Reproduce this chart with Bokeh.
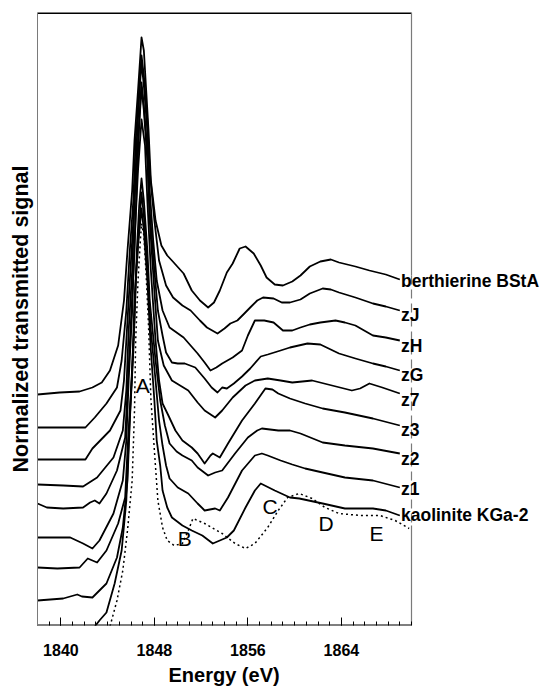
from bokeh.plotting import figure
from bokeh.models import Range1d, FixedTicker, ColumnDataSource, Title
from bokeh.core.properties import value
from bokeh.embed import file_html
from bokeh.resources import INLINE

# ---------------- data ----------------
e_bsta = [1838.0, 1839.9, 1841.6, 1842.7, 1843.5, 1844.2, 1844.9, 1845.4, 1845.7, 1846.1, 1846.3, 1846.6, 1846.8, 1846.9,
          1847.1, 1847.3, 1847.5, 1847.7, 1848.1, 1848.6, 1849.1, 1849.5, 1850.5, 1851.2, 1851.9, 1852.6, 1853.1, 1853.6,
          1854.2, 1854.7, 1855.3, 1855.8, 1856.5, 1857.1, 1857.6, 1858.3, 1859.0, 1859.8, 1860.5, 1861.3, 1862.2, 1863.1,
          1863.8, 1865.2, 1866.4, 1867.8, 1869.0]
s_bsta = [2.31, 2.33, 2.34, 2.38, 2.43, 2.55, 2.80, 3.25, 3.75, 4.35, 4.85, 5.35, 5.70, 5.88,
          5.75, 5.35, 4.95, 4.45, 4.05, 3.80, 3.70, 3.65, 3.52, 3.35, 3.25, 3.18, 3.23, 3.35,
          3.53, 3.62, 3.77, 3.79, 3.72, 3.60, 3.48, 3.41, 3.40, 3.44, 3.50, 3.59, 3.64, 3.66,
          3.63, 3.59, 3.55, 3.51, 3.46]

e_zJ = [1838.0, 1842.1, 1842.9, 1843.9, 1844.8, 1845.2, 1845.6, 1845.9, 1846.2, 1846.4, 1846.7, 1846.9, 1847.1, 1847.4,
        1847.6, 1848.0, 1848.4, 1849.0, 1849.6, 1850.4, 1851.1, 1851.9, 1852.5, 1853.4, 1854.0, 1854.5, 1855.1, 1855.7,
        1856.2, 1856.8, 1857.3, 1858.2, 1858.9, 1859.6, 1860.5, 1861.3, 1862.4, 1863.1, 1863.8, 1865.2, 1866.7, 1867.8,
        1869.0]
s_zJ = [1.98, 1.98, 2.08, 2.22, 2.38, 2.65, 3.15, 3.75, 4.25, 4.85, 5.35, 5.70, 5.50, 5.05,
        4.55, 4.05, 3.65, 3.40, 3.28, 3.20, 3.15, 3.05, 2.98, 2.92, 2.97, 3.02, 3.05, 3.12,
        3.18, 3.25, 3.28, 3.27, 3.23, 3.23, 3.26, 3.32, 3.37, 3.36, 3.33, 3.28, 3.22, 3.19,
        3.15]

e_zH = [1838.0, 1842.1, 1842.7, 1844.2, 1845.1, 1845.4, 1845.7, 1846.0, 1846.3, 1846.5, 1846.7, 1846.9, 1847.1, 1847.4,
        1847.6, 1847.9, 1848.2, 1848.7, 1849.3, 1850.5, 1851.1, 1851.7, 1852.3, 1852.8, 1853.3, 1853.8, 1854.7, 1855.5,
        1856.0, 1856.6, 1857.4, 1858.2, 1859.0, 1859.8, 1860.5, 1861.3, 1862.2, 1863.5, 1864.3, 1865.2, 1866.1, 1866.7,
        1867.8, 1869.0]
s_zH = [1.66, 1.66, 1.77, 1.95, 2.15, 2.45, 3.05, 3.65, 4.25, 4.85, 5.30, 5.63, 5.40, 4.95,
        4.35, 3.85, 3.45, 3.15, 2.98, 2.88, 2.80, 2.72, 2.63, 2.55, 2.58, 2.62, 2.68, 2.75,
        2.90, 3.05, 3.05, 3.03, 2.95, 2.95, 2.98, 3.01, 3.03, 3.05, 3.03, 3.00, 2.94, 2.90,
        2.88, 2.85]

e_zG = [1838.0, 1840.2, 1841.9, 1843.1, 1844.5, 1845.3, 1845.6, 1845.8, 1846.1, 1846.3, 1846.6, 1846.9, 1847.1, 1847.4,
        1847.6, 1848.0, 1848.3, 1848.7, 1849.0, 1849.5, 1850.0, 1850.6, 1851.5, 1852.3, 1852.9, 1853.4, 1853.8, 1854.2,
        1854.8, 1855.5, 1856.2, 1857.1, 1857.7, 1858.8, 1859.6, 1861.1, 1862.2, 1863.8, 1865.2, 1866.7, 1867.8, 1869.0]
s_zG = [1.41, 1.40, 1.39, 1.48, 1.68, 1.95, 2.35, 2.95, 3.55, 4.25, 4.85, 5.43, 5.20, 4.75,
        4.15, 3.55, 3.15, 2.90, 2.73, 2.63, 2.62, 2.62, 2.58, 2.47, 2.38, 2.33, 2.38, 2.37,
        2.42, 2.49, 2.57, 2.69, 2.71, 2.75, 2.78, 2.82, 2.81, 2.72, 2.67, 2.62, 2.59, 2.55]

e_z7 = [1838.0, 1838.8, 1840.2, 1841.9, 1842.5, 1842.9, 1843.3, 1843.9, 1844.8, 1845.5, 1845.7, 1846.0, 1846.3, 1846.5,
        1846.7, 1846.9, 1847.1, 1847.4, 1847.6, 1848.0, 1848.3, 1848.8, 1849.5, 1850.2, 1850.9, 1851.7, 1852.3, 1853.2,
        1853.8, 1854.7, 1855.8, 1856.6, 1857.7, 1858.8, 1859.8, 1861.5, 1863.2, 1864.9, 1865.6, 1866.4, 1867.5, 1869.0]
s_z7 = [1.22, 1.18, 1.17, 1.18, 1.23, 1.25, 1.22, 1.32, 1.55, 1.88, 2.35, 3.05, 3.75, 4.45,
        5.00, 5.38, 5.15, 4.65, 4.05, 3.35, 2.85, 2.60, 2.45, 2.40, 2.35, 2.23, 2.15, 2.08,
        2.15, 2.28, 2.40, 2.45, 2.47, 2.45, 2.43, 2.45, 2.40, 2.35, 2.37, 2.42, 2.38, 2.32]

e_z3 = [1838.0, 1840.8, 1841.9, 1842.7, 1843.3, 1844.5, 1845.3, 1845.6, 1845.8, 1846.1, 1846.3, 1846.6, 1846.9, 1847.2,
        1847.4, 1847.7, 1848.1, 1848.4, 1848.7, 1849.2, 1849.8, 1850.4, 1851.2, 1851.7, 1852.3, 1852.8, 1853.0, 1853.6,
        1854.3, 1855.5, 1856.6, 1857.5, 1858.1, 1858.6, 1859.6, 1860.9, 1862.4, 1864.3, 1866.7, 1869.0]
s_z3 = [0.88, 0.88, 0.82, 0.77, 0.85, 1.12, 1.45, 1.85, 2.45, 3.15, 3.85, 4.55, 5.06, 4.80,
        4.25, 3.55, 2.85, 2.45, 2.22, 2.10, 1.95, 1.85, 1.78, 1.72, 1.62, 1.70, 1.72, 1.68,
        1.82, 2.05, 2.22, 2.37, 2.36, 2.32, 2.27, 2.22, 2.17, 2.13, 2.07, 2.00]

e_z2 = [1838.0, 1839.7, 1841.6, 1842.3, 1843.1, 1843.9, 1844.9, 1845.5, 1845.7, 1846.0, 1846.3, 1846.5, 1846.7, 1846.9,
        1847.1, 1847.4, 1847.6, 1848.1, 1848.5, 1848.9, 1849.3, 1849.9, 1850.4, 1851.2, 1851.7, 1852.6, 1853.2, 1853.8,
        1854.9, 1856.0, 1856.8, 1857.2, 1858.6, 1859.6, 1860.5, 1862.4, 1864.3, 1866.7, 1869.0]
s_z2 = [0.58, 0.57, 0.58, 0.67, 0.63, 0.75, 1.02, 1.28, 1.75, 2.35, 3.05, 3.75, 4.20, 4.47,
        4.25, 3.75, 3.25, 2.65, 2.25, 2.00, 1.82, 1.74, 1.70, 1.65, 1.58, 1.50, 1.53, 1.55,
        1.72, 1.88, 1.95, 1.97, 1.95, 1.95, 1.92, 1.83, 1.80, 1.77, 1.72]

e_z1 = [1838.0, 1840.2, 1841.4, 1841.8, 1842.7, 1843.9, 1844.8, 1845.3, 1845.7, 1845.9, 1846.2, 1846.4, 1846.7, 1846.9,
        1847.1, 1847.4, 1847.7, 1848.1, 1848.4, 1848.7, 1849.0, 1849.3, 1850.0, 1850.9, 1851.7, 1852.3, 1853.2, 1853.6,
        1854.3, 1855.5, 1856.6, 1857.2, 1857.7, 1858.8, 1859.8, 1860.9, 1862.4, 1864.3, 1866.7, 1869.0]
s_z1 = [0.25, 0.27, 0.31, 0.29, 0.28, 0.42, 0.68, 0.98, 1.45, 2.05, 2.75, 3.45, 4.00, 4.33,
        4.10, 3.60, 2.95, 2.45, 2.05, 1.80, 1.60, 1.47, 1.38, 1.32, 1.22, 1.15, 1.17, 1.15,
        1.28, 1.55, 1.70, 1.72, 1.70, 1.65, 1.61, 1.57, 1.53, 1.48, 1.45, 1.38]

e_kga = [1842.3, 1842.9, 1843.3, 1843.9, 1844.6, 1845.2, 1845.6, 1845.8, 1846.1, 1846.3, 1846.6, 1846.9, 1847.1, 1847.4,
         1847.7, 1848.0, 1848.2, 1848.5, 1848.7, 1849.1, 1849.5, 1850.4, 1851.2, 1852.1, 1853.0, 1853.6, 1854.2, 1854.8,
         1855.8, 1856.6, 1857.1, 1858.3, 1859.6, 1860.4, 1862.4, 1864.3, 1866.7, 1867.8, 1869.0]
s_kga = [-0.15, -0.01, 0.05, 0.13, 0.42, 0.75, 1.25, 1.85, 2.55, 3.25, 3.80, 4.17, 3.95, 3.45,
         2.75, 2.25, 1.85, 1.60, 1.35, 1.18, 1.08, 1.00, 0.95, 0.90, 0.82, 0.85, 0.88, 0.95,
         1.18, 1.35, 1.42, 1.35, 1.28, 1.27, 1.22, 1.17, 1.17, 1.15, 1.10]

e_dot = [1843.8, 1844.2, 1844.8, 1845.3, 1845.7, 1846.1, 1846.3, 1846.4, 1846.6, 1846.8, 1846.9, 1847.1, 1847.3, 1847.5,
         1847.7, 1848.0, 1848.3, 1848.7, 1849.1, 1849.7, 1850.4, 1850.9, 1851.3, 1852.3, 1853.8, 1854.9, 1855.8, 1856.6,
         1857.7, 1858.6, 1859.4, 1860.4, 1861.5, 1862.6, 1863.8, 1865.6, 1867.3, 1868.6, 1869.8]
s_dot = [-0.15, -0.01, 0.25, 0.55, 0.95, 1.45, 2.15, 2.85, 3.45, 3.85, 4.02, 3.90, 3.50, 3.00,
         2.27, 1.75, 1.25, 0.98, 0.85, 0.80, 0.82, 0.95, 1.07, 1.02, 0.92, 0.82, 0.77, 0.82,
         0.98, 1.15, 1.28, 1.32, 1.27, 1.18, 1.12, 1.10, 1.10, 1.05, 0.97]

sample_names = ["berthierine BStA", "zJ", "zH", "zG", "z7", "z3", "z2", "z1", "kaolinite KGa-2"]
label_energy = 1869.1
label_signal = [3.45, 3.11, 2.80, 2.51, 2.26, 1.96, 1.67, 1.37, 1.11]

feature_names = ["A", "B", "C", "D", "E"]
feature_energy = [1847.0, 1850.6, 1857.9, 1862.7, 1867.0]
feature_signal = [2.40, 0.87, 1.19, 1.02, 0.92]

x_ticks = [1840, 1848, 1856, 1864]
x_minor = list(range(1838, 1871))
e_min, e_max = 1838, 1870
s_min, s_max = 0.0, 6.13

FONT = "Liberation Sans"

# frame is widened to the right edge so that the sample labels can cross the box edge;
# the box itself (1838..1870) is drawn with segments
px_per_ev = 374 / 32.0
x_view_end = e_min + 507 / px_per_ev

p = figure(frame_width=507, frame_height=613, output_backend="svg", toolbar_location=None,
           x_range=Range1d(e_min, x_view_end), y_range=Range1d(s_min, s_max),
           min_border_left=37, min_border_right=0, min_border_top=12, min_border_bottom=50)
p.grid.visible = False
p.outline_line_color = None
p.background_fill_color = "white"
p.border_fill_color = "white"

# x axis: ticks + tick labels only
xa = p.xaxis[0]
xa.ticker = FixedTicker(ticks=x_ticks, minor_ticks=x_minor)
xa.axis_line_color = None
xa.major_tick_in = 8
xa.major_tick_out = 0
xa.minor_tick_in = 4
xa.minor_tick_out = 0
xa.major_tick_line_color = "black"
xa.minor_tick_line_color = "black"
xa.major_label_text_font = FONT
xa.major_label_text_font_style = "bold"
xa.major_label_text_font_size = "16px"
xa.major_label_text_color = "black"
xa.major_label_standoff = 18

p.add_layout(Title(text="Energy (eV)", align="left", offset=131, standoff=6,
                   text_font=FONT, text_font_style="bold", text_font_size="20px",
                   text_color="black"), "below")

# y axis (label only)
ya = p.yaxis[0]
ya.ticker = FixedTicker(ticks=[])
ya.axis_line_color = "#7a7a7a"
ya.major_tick_line_color = None
ya.minor_tick_line_color = None
ya.major_label_standoff = 0
ya.axis_label = "Normalized transmitted signal"
ya.axis_label_text_font = FONT
ya.axis_label_text_font_style = "bold"
ya.axis_label_text_font_size = "21.5px"
ya.axis_label_text_color = "black"
ya.axis_label_standoff = 5

# box: bottom (black), top (black), right (grey, partly broken)
p.segment(x0=[e_min], y0=[s_min], x1=[e_max], y1=[s_min], line_color="black", line_width=2)
p.segment(x0=[e_min], y0=[s_max], x1=[e_max], y1=[s_max], line_color="black", line_width=3)
p.segment(x0=[e_max, e_max], y0=[s_max, 1.0], x1=[e_max, e_max], y1=[3.5, s_min],
          line_color="#7a7a7a", line_width=1.2)
p.segment(x0=[e_max], y0=[3.5], x1=[e_max], y1=[1.0],
          line_color="#7a7a7a", line_width=1.2, line_dash="9 5")

# curves
for e, s in [(e_bsta, s_bsta), (e_zJ, s_zJ), (e_zH, s_zH), (e_zG, s_zG), (e_z7, s_z7),
             (e_z3, s_z3), (e_z2, s_z2), (e_z1, s_z1), (e_kga, s_kga)]:
    p.line(e, s, line_color="black", line_width=1.8, line_join="round")
p.line(e_dot, s_dot, line_color="black", line_width=1.5, line_dash="2 3")

# feature letters
src = ColumnDataSource(dict(x=feature_energy, y=feature_signal, t=feature_names))
p.text(x="x", y="y", text="t", source=src, text_font=value(FONT), text_font_size="21px",
       text_align="center", text_baseline="middle", text_color="black")

# sample labels
lab = ColumnDataSource(dict(x=[label_energy] * len(sample_names), y=label_signal, t=sample_names))
p.text(x="x", y="y", text="t", source=lab, text_font=value(FONT), text_font_style="bold",
       text_font_size="17.5px", text_align="left", text_baseline="middle", text_color="black")

open("out.html", "w").write(file_html(p, INLINE))
